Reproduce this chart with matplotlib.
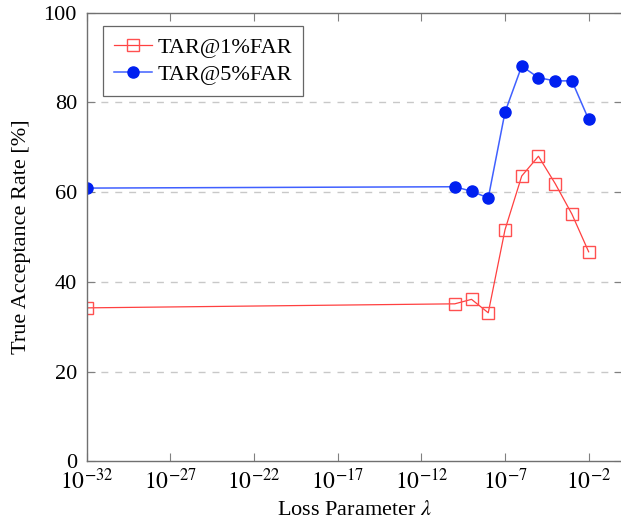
import matplotlib
matplotlib.use("Agg")
import matplotlib.pyplot as plt
import numpy as np

plt.rcParams['font.family'] = ['Liberation Serif', 'DejaVu Serif']
plt.rcParams['mathtext.fontset'] = 'stix'

lam = [1e-32, 1e-10, 1e-9, 1e-8, 1e-7, 1e-6, 1e-5, 1e-4, 1e-3, 1e-2]
tar1 = [34.2, 35.1, 36.1, 33.1, 51.6, 63.6, 68.0, 61.9, 55.1, 46.7]
tar5 = [60.9, 61.2, 60.2, 58.7, 77.8, 88.1, 85.5, 84.8, 84.8, 76.2]
xticks = [1e-32, 1e-27, 1e-22, 1e-17, 1e-12, 1e-7, 1e-2]
xticklabels = [r'$10^{-32}$', r'$10^{-27}$', r'$10^{-22}$', r'$10^{-17}$',
               r'$10^{-12}$', r'$10^{-7}$', r'$10^{-2}$']
yticks = [0, 20, 40, 60, 80, 100]

fig = plt.figure(figsize=(6.21, 5.22), dpi=100)
ax = fig.add_axes([0.1396, 0.1163, 0.8622, 0.8594])

ax.plot(lam, tar1, color='#ff4040', lw=0.9, marker='s', markersize=8,
        markerfacecolor='none', markeredgecolor='#ff5050', markeredgewidth=1.0,
        label='TAR@1%FAR')
ax.plot(lam, tar5, color='#4060ff', lw=1.1, marker='o', markersize=8,
        markerfacecolor='#0020f0', markeredgecolor='#0020f0',
        label='TAR@5%FAR')

ax.set_xscale('log')
ax.set_xlim(1e-32, 1e0)
ax.set_ylim(0, 100)
ax.set_xticks(xticks)
ax.set_xticklabels(xticklabels)
ax.xaxis.set_minor_locator(matplotlib.ticker.NullLocator())
ax.set_yticks(yticks)
for y in [20, 40, 60, 80]:
    ax.axhline(y, color='#c8c8c8', lw=1.0, ls=(0, (5, 5)), zorder=0)

ax.tick_params(axis='both', which='major', direction='in', top=True, right=True,
               length=6, width=0.8, color='#808080', labelsize=16)
ax.tick_params(axis='x', labelsize=17, pad=5)
ax.tick_params(axis='y', pad=7)
for s in ax.spines.values():
    s.set_color('#707070')
    s.set_linewidth(1.0)

ax.set_xlabel(r'Loss Parameter $\lambda$', fontsize=16, labelpad=5)
ax.set_ylabel('True Acceptance Rate [%]', fontsize=16, labelpad=9)

leg = ax.legend(loc='upper left', bbox_to_anchor=(0.0225, 0.98), fontsize=16,
                frameon=True, fancybox=False, edgecolor='#404040',
                handlelength=1.7, borderpad=0.5, labelspacing=0.3,
                handletextpad=0.25, borderaxespad=0.2)
leg.get_frame().set_linewidth(0.9)

fig.savefig('out.png', dpi=100)
